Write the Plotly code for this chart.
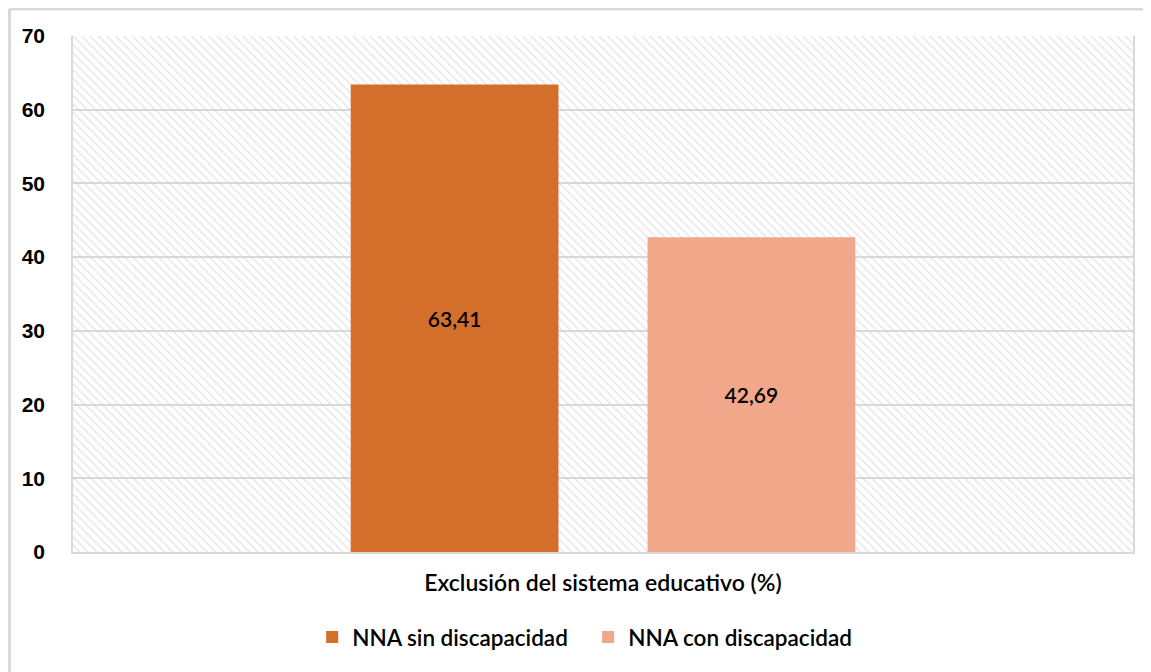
import plotly.graph_objects as go

# data
categoria = ["Exclusión del sistema educativo (%)"]
series = ["NNA sin discapacidad", "NNA con discapacidad"]
valores = [[63.41], [42.69]]
colores = ["#D36E2B", "#F0A78A"]
y_ticks = [0, 10, 20, 30, 40, 50, 60, 70]

W, H = 1151, 672
M = dict(l=65, r=26, t=28, b=128)
pw = W - M["l"] - M["r"]
ph = H - M["t"] - M["b"]

fig = go.Figure()

# hatched background of the plot area (decoration only, on the base x axis)
fig.add_trace(go.Bar(
    x=[0.5], y=[max(y_ticks)], width=[1], base=0,
    xaxis="x", yaxis="y",
    marker=dict(color="rgba(0,0,0,0)", line_width=0,
                pattern=dict(shape="\\", fgcolor="#cfcfcf", bgcolor="rgba(0,0,0,0)",
                             size=6, solidity=0.25)),
    hoverinfo="skip", showlegend=False,
))

for nombre, vals, col in zip(series, valores, colores):
    fig.add_trace(go.Bar(
        x=categoria, y=vals, name=nombre, xaxis="x2", yaxis="y",
        marker=dict(color=col, line_width=0),
        texttemplate="%{y:.2f}", textposition="inside", insidetextanchor="middle",
        textfont=dict(family="Lato", size=21, color="black", weight=600),
    ))

fig.update_layout(
    width=W, height=H,
    margin=M,
    paper_bgcolor="white", plot_bgcolor="white",
    separators=",.",
    barmode="group", bargap=0.44, bargroupgap=0.3,
    font=dict(family="Lato", size=23, color="black", weight=600),
    xaxis=dict(range=[0, 1], showgrid=False, showticklabels=False, ticks="",
               zeroline=False, showline=True, linecolor="#d9d9d9", linewidth=2),
    xaxis2=dict(overlaying="x", anchor="y", side="bottom", showgrid=False, ticks="",
                showline=False, zeroline=False,
                tickfont=dict(family="Lato", size=23, weight=600),
                ticklabelstandoff=15),
    yaxis=dict(range=[0, 70], tickvals=y_ticks, showgrid=True, gridcolor="#d9d9d9",
               gridwidth=1.5, zeroline=False, showline=True, linecolor="#d9d9d9",
               linewidth=1.5, mirror=True,
               tickfont=dict(family="Liberation Sans", size=21, weight="bold"),
               ticklabelstandoff=22),
    legend=dict(orientation="h", x=0.486, xanchor="center", y=-0.124, yanchor="top",
                bgcolor="rgba(0,0,0,0)", font=dict(family="Lato", size=22.5, weight=600),
                itemwidth=30, entrywidth=231, traceorder="normal"),
    shapes=[
        # outer frame: only top and left edges are visible in the reference
        dict(type="line", xref="paper", yref="paper",
             x0=(1.5 - M["l"]) / pw, x1=1 + M["r"] / pw,
             y0=1 + (M["t"] - 1) / ph, y1=1 + (M["t"] - 1) / ph,
             line=dict(color="#d9d9d9", width=3)),
        dict(type="line", xref="paper", yref="paper",
             x0=(1.5 - M["l"]) / pw, x1=(1.5 - M["l"]) / pw,
             y0=-M["b"] / ph, y1=1 + (M["t"] - 1) / ph,
             line=dict(color="#d9d9d9", width=3)),
    ],
)

fig.write_html("out.html")
